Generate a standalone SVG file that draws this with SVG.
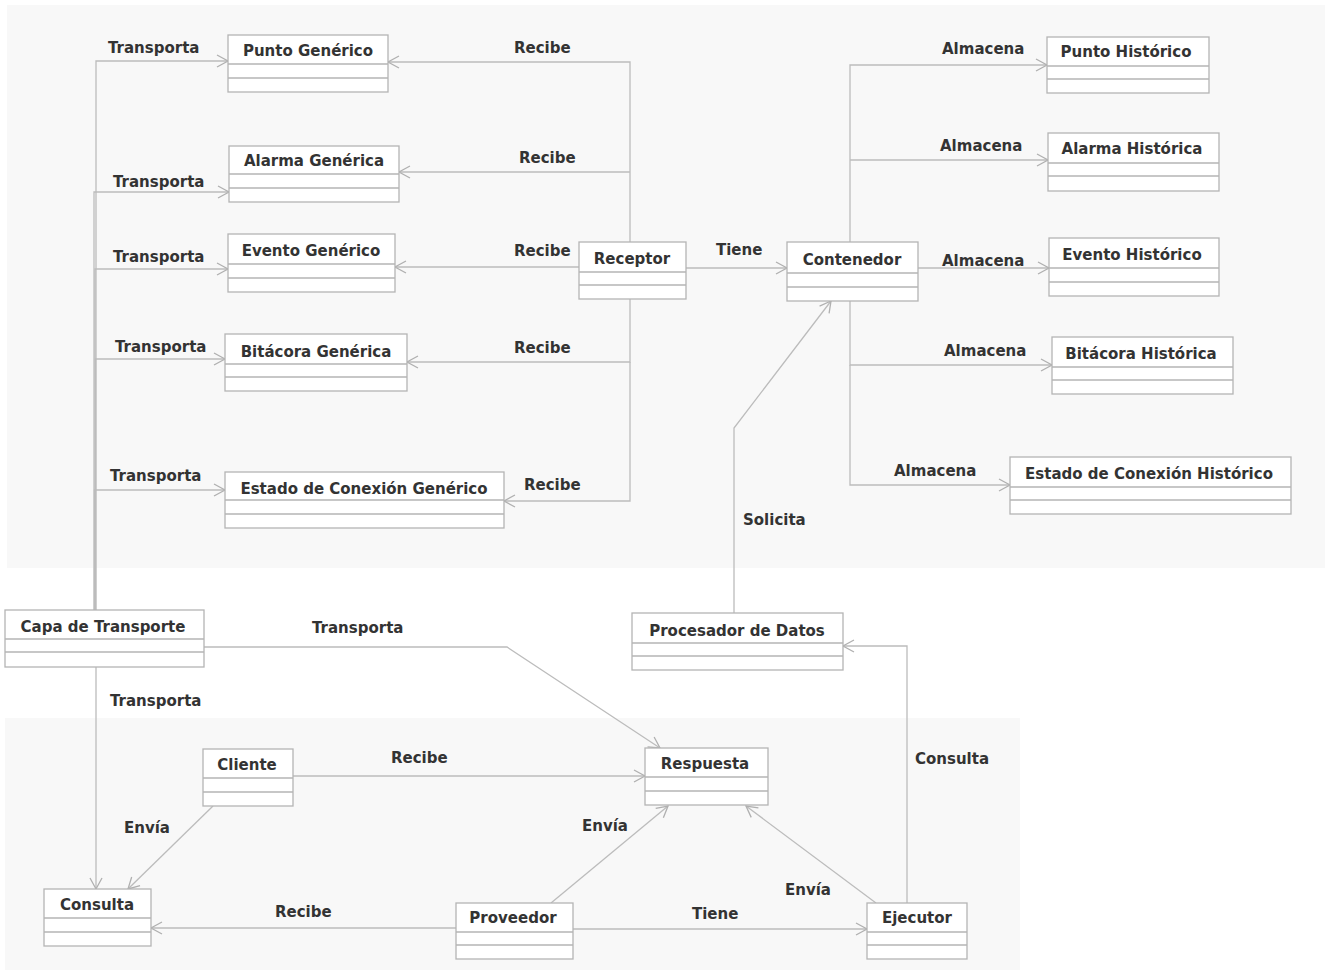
<svg xmlns="http://www.w3.org/2000/svg" width="1331" height="974" viewBox="0 0 1331 974">
<defs>
<style>
.bg{fill:#f8f8f8;stroke:none}
.box{fill:#ffffff;stroke:#b4b4b4;stroke-width:1.3}
.div{stroke:#b4b4b4;stroke-width:1.3}
.nm{font-family:"DejaVu Sans",Verdana,sans-serif;font-weight:bold;font-size:15px;fill:#333333;text-anchor:middle}
.lb{font-family:"DejaVu Sans",Verdana,sans-serif;font-weight:bold;font-size:15px;fill:#333333}
.c{fill:none;stroke:#bcbcbc;stroke-width:1.3;marker-end:url(#arr)}
</style>
<marker id="arr" markerUnits="userSpaceOnUse" markerWidth="14" markerHeight="14" viewBox="-12 -7 14 14" refX="0" refY="0" orient="auto" overflow="visible">
<path d="M-11,-6 L0,0 L-11,6" fill="none" stroke="#b0b0b0" stroke-width="1.3"/>
</marker>
</defs>
<rect width="1331" height="974" fill="#ffffff"/>
<rect class="bg" x="7" y="5" width="1318" height="563"/>
<rect class="bg" x="5" y="718" width="1015" height="252"/>

<g id="connectors">
<!-- Capa de Transporte -> generic -->
<path class="c" d="M96,610 V61 H228"/>
<path class="c" d="M94,610 V192 H229"/>
<path class="c" d="M95,610 V269 H228"/>
<path class="c" d="M95.5,610 V359 H225"/>
<path class="c" d="M94.5,610 V490 H225"/>
<!-- Receptor -> generic -->
<path class="c" d="M630,242 V62 H388"/>
<path class="c" d="M630,172 H399"/>
<path class="c" d="M579,267 H395"/>
<path class="c" d="M630,299 V362 H407"/>
<path class="c" d="M630,362 V501 H504"/>
<!-- Receptor -> Contenedor -->
<path class="c" d="M686,268 H787"/>
<!-- Contenedor -> historic -->
<path class="c" d="M850,242 V65 H1047"/>
<path class="c" d="M850,160 H1048"/>
<path class="c" d="M918,268 H1049"/>
<path class="c" d="M850,301 V365 H1052"/>
<path class="c" d="M850,365 V485 H1010"/>
<!-- Procesador -> Contenedor -->
<path class="c" d="M734,613 V428 L831,301"/>
<!-- Capa -> Respuesta -->
<path class="c" d="M204,647 H507 L660,748"/>
<!-- Capa -> Consulta -->
<path class="c" d="M96,667 V889"/>
<!-- Cliente -> Consulta -->
<path class="c" d="M213,806 L128,889"/>
<!-- Cliente -> Respuesta -->
<path class="c" d="M293,776 H645"/>
<!-- Proveedor -> Consulta -->
<path class="c" d="M456,928 H151"/>
<!-- Proveedor -> Respuesta -->
<path class="c" d="M551,903 L668,806"/>
<!-- Ejecutor -> Respuesta -->
<path class="c" d="M876,903 L746,806"/>
<!-- Proveedor -> Ejecutor -->
<path class="c" d="M573,929 H867"/>
<!-- Ejecutor -> Procesador -->
<path class="c" d="M907,903 V646 H843"/>

<text class="lb" x="108" y="53">Transporta</text>
<text class="lb" x="113" y="187">Transporta</text>
<text class="lb" x="113" y="262">Transporta</text>
<text class="lb" x="115" y="352">Transporta</text>
<text class="lb" x="110" y="481">Transporta</text>
<text class="lb" x="514" y="53">Recibe</text>
<text class="lb" x="519" y="163">Recibe</text>
<text class="lb" x="514" y="256">Recibe</text>
<text class="lb" x="514" y="353">Recibe</text>
<text class="lb" x="524" y="490">Recibe</text>
<text class="lb" x="716" y="255">Tiene</text>
<text class="lb" x="942" y="54">Almacena</text>
<text class="lb" x="940" y="151">Almacena</text>
<text class="lb" x="942" y="266">Almacena</text>
<text class="lb" x="944" y="356">Almacena</text>
<text class="lb" x="894" y="476">Almacena</text>
<text class="lb" x="743" y="525">Solicita</text>
<text class="lb" x="312" y="633">Transporta</text>
<text class="lb" x="110" y="706">Transporta</text>
<text class="lb" x="391" y="763">Recibe</text>
<text class="lb" x="124" y="833">Envía</text>
<text class="lb" x="275" y="917">Recibe</text>
<text class="lb" x="582" y="831">Envía</text>
<text class="lb" x="692" y="919">Tiene</text>
<text class="lb" x="785" y="895">Envía</text>
<text class="lb" x="915" y="764">Consulta</text>
</g>

<g id="punto_generico">
<rect class="box" x="228" y="35" width="160" height="57"/>
<line class="div" x1="228" y1="64" x2="388" y2="64"/><line class="div" x1="228" y1="78" x2="388" y2="78"/>
<text class="nm" x="308" y="56">Punto Genérico</text>
</g>
<g id="alarma_generica">
<rect class="box" x="229" y="146" width="170" height="56"/>
<line class="div" x1="229" y1="174" x2="399" y2="174"/><line class="div" x1="229" y1="188" x2="399" y2="188"/>
<text class="nm" x="314" y="166">Alarma Genérica</text>
</g>
<g id="evento_generico">
<rect class="box" x="228" y="234" width="167" height="58"/>
<line class="div" x1="228" y1="264" x2="395" y2="264"/><line class="div" x1="228" y1="278" x2="395" y2="278"/>
<text class="nm" x="311" y="256">Evento Genérico</text>
</g>
<g id="bitacora_generica">
<rect class="box" x="225" y="334" width="182" height="57"/>
<line class="div" x1="225" y1="364" x2="407" y2="364"/><line class="div" x1="225" y1="377" x2="407" y2="377"/>
<text class="nm" x="316" y="357">Bitácora Genérica</text>
</g>
<g id="estado_conexion_generico">
<rect class="box" x="225" y="472" width="279" height="56"/>
<line class="div" x1="225" y1="500" x2="504" y2="500"/><line class="div" x1="225" y1="514" x2="504" y2="514"/>
<text class="nm" x="364" y="494">Estado de Conexión Genérico</text>
</g>
<g id="receptor">
<rect class="box" x="579" y="242" width="107" height="57"/>
<line class="div" x1="579" y1="272" x2="686" y2="272"/><line class="div" x1="579" y1="285" x2="686" y2="285"/>
<text class="nm" x="632" y="264">Receptor</text>
</g>
<g id="contenedor">
<rect class="box" x="787" y="242" width="131" height="59"/>
<line class="div" x1="787" y1="273" x2="918" y2="273"/><line class="div" x1="787" y1="287" x2="918" y2="287"/>
<text class="nm" x="852" y="265">Contenedor</text>
</g>
<g id="punto_historico">
<rect class="box" x="1047" y="37" width="162" height="56"/>
<line class="div" x1="1047" y1="66" x2="1209" y2="66"/><line class="div" x1="1047" y1="79" x2="1209" y2="79"/>
<text class="nm" x="1126" y="57">Punto Histórico</text>
</g>
<g id="alarma_historica">
<rect class="box" x="1048" y="133" width="171" height="58"/>
<line class="div" x1="1048" y1="163" x2="1219" y2="163"/><line class="div" x1="1048" y1="176" x2="1219" y2="176"/>
<text class="nm" x="1132" y="154">Alarma Histórica</text>
</g>
<g id="evento_historico">
<rect class="box" x="1049" y="238" width="170" height="58"/>
<line class="div" x1="1049" y1="268" x2="1219" y2="268"/><line class="div" x1="1049" y1="282" x2="1219" y2="282"/>
<text class="nm" x="1132" y="260">Evento Histórico</text>
</g>
<g id="bitacora_historica">
<rect class="box" x="1052" y="337" width="181" height="57"/>
<line class="div" x1="1052" y1="367" x2="1233" y2="367"/><line class="div" x1="1052" y1="380" x2="1233" y2="380"/>
<text class="nm" x="1141" y="359">Bitácora Histórica</text>
</g>
<g id="estado_conexion_historico">
<rect class="box" x="1010" y="457" width="281" height="57"/>
<line class="div" x1="1010" y1="487" x2="1291" y2="487"/><line class="div" x1="1010" y1="500" x2="1291" y2="500"/>
<text class="nm" x="1149" y="479">Estado de Conexión Histórico</text>
</g>
<g id="capa_transporte">
<rect class="box" x="5" y="610" width="199" height="57"/>
<line class="div" x1="5" y1="639" x2="204" y2="639"/><line class="div" x1="5" y1="652" x2="204" y2="652"/>
<text class="nm" x="103" y="632">Capa de Transporte</text>
</g>
<g id="procesador_datos">
<rect class="box" x="632" y="613" width="211" height="57"/>
<line class="div" x1="632" y1="643" x2="843" y2="643"/><line class="div" x1="632" y1="656" x2="843" y2="656"/>
<text class="nm" x="737" y="636">Procesador de Datos</text>
</g>
<g id="cliente">
<rect class="box" x="203" y="749" width="90" height="57"/>
<line class="div" x1="203" y1="778" x2="293" y2="778"/><line class="div" x1="203" y1="792" x2="293" y2="792"/>
<text class="nm" x="247" y="770">Cliente</text>
</g>
<g id="respuesta">
<rect class="box" x="645" y="748" width="123" height="57"/>
<line class="div" x1="645" y1="777" x2="768" y2="777"/><line class="div" x1="645" y1="791" x2="768" y2="791"/>
<text class="nm" x="705" y="769">Respuesta</text>
</g>
<g id="consulta">
<rect class="box" x="44" y="889" width="107" height="57"/>
<line class="div" x1="44" y1="918" x2="151" y2="918"/><line class="div" x1="44" y1="932" x2="151" y2="932"/>
<text class="nm" x="97" y="910">Consulta</text>
</g>
<g id="proveedor">
<rect class="box" x="456" y="903" width="117" height="56"/>
<line class="div" x1="456" y1="932" x2="573" y2="932"/><line class="div" x1="456" y1="945" x2="573" y2="945"/>
<text class="nm" x="513" y="923">Proveedor</text>
</g>
<g id="ejecutor">
<rect class="box" x="867" y="903" width="100" height="56"/>
<line class="div" x1="867" y1="932" x2="967" y2="932"/><line class="div" x1="867" y1="945" x2="967" y2="945"/>
<text class="nm" x="917" y="923">Ejecutor</text>
</g>
</svg>
